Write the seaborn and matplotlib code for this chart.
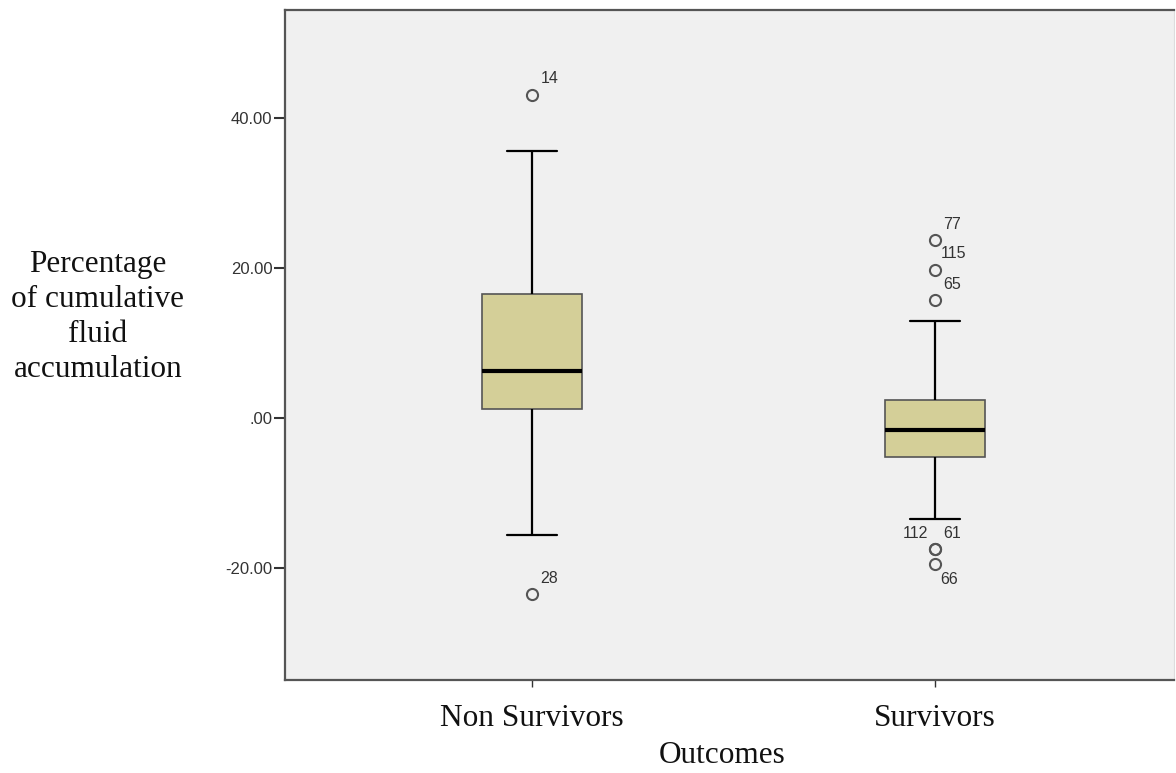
import matplotlib as mpl; mpl.use("Agg")
import matplotlib.pyplot as plt
import pandas as pd
import seaborn as sns

# --- valores (SPSS boxplot) ---
categorias = ["Non Survivors", "Survivors"]
q1 = [1.2, -5.2]
mediana = [6.3, -1.6]
q3 = [16.5, 2.4]
bigote_inf = [-15.6, -13.5]
bigote_sup = [35.6, 12.9]
atipicos_bajos = [[-23.5], [-17.5, -17.5, -19.5]]
atipicos_altos = [[43.1], [23.7, 19.7, 15.7]]
etiquetas_bajos = [["28"], ["112", "61", "66"]]
etiquetas_altos = [["14"], ["77", "115", "65"]]
yticks = [-20, 0, 20, 40]
ytick_labels = ["-20.00", ".00", "20.00", "40.00"]

# desplazamiento de las etiquetas de caso (puntos)
off_bajos = [[(6, 11.5)], [(-5, 11.5), (6, 11.5), (4, -11)]]
off_altos = [[(6, 12)], [(6, 11.5), (4, 12), (6, 11.5)]]
ha_bajos = [["left"], ["right", "left", "left"]]

# tabla larga que reproduce exactamente los cuartiles, bigotes y atipicos
filas = []
for i, cat in enumerate(categorias):
    vals = (atipicos_bajos[i] + [bigote_inf[i]] + [q1[i]] * 20 + [mediana[i]]
            + [q3[i]] * 20 + [bigote_sup[i]] + atipicos_altos[i])
    filas += [(cat, v) for v in vals]
df = pd.DataFrame(filas, columns=["outcome", "valor"])

sns.set_style("white")
plt.rcParams["font.family"] = ["Liberation Sans", "DejaVu Sans"]

fig = plt.figure(figsize=(11.76, 7.73), dpi=100)
ax = fig.add_axes([0.2423, 0.1203, 0.7560, 0.8667])
ax.set_facecolor("#f0f0f0")

sns.boxplot(data=df, x="outcome", y="valor", order=categorias, ax=ax,
            color="#d4cf98", saturation=1, width=0.25, linecolor="#555555",
            linewidth=1.2,
            boxprops=dict(edgecolor="#555555", linewidth=1.2),
            medianprops=dict(color="black", linewidth=3),
            whiskerprops=dict(color="black", linewidth=1.6),
            capprops=dict(color="black", linewidth=1.6),
            flierprops=dict(marker="o", markersize=8, markerfacecolor="none",
                            markeredgecolor="#555555", markeredgewidth=1.5))

# etiquetas de los casos atipicos
for i in range(len(categorias)):
    for v, lab, off in zip(atipicos_altos[i], etiquetas_altos[i], off_altos[i]):
        ax.annotate(lab, (i, v), xytext=off, textcoords="offset points",
                    ha="left", va="center", fontsize=11.5, color="#333333")
    for v, lab, off, ha in zip(atipicos_bajos[i], etiquetas_bajos[i], off_bajos[i], ha_bajos[i]):
        ax.annotate(lab, (i, v), xytext=off, textcoords="offset points",
                    ha=ha, va="center", fontsize=11.5, color="#333333")

ax.set_xlim(-0.613, 1.593)
ax.set_ylim(-34.9, 54.4)
ax.set_yticks(yticks)
ax.set_yticklabels(ytick_labels, fontsize=12, color="#333333")
ax.tick_params(axis="y", direction="out", length=8, width=1.5, color="#333333", pad=1, left=True)
ax.tick_params(axis="x", direction="out", length=5, width=1, color="#333333", pad=12, bottom=True)
for t in ax.get_xticklabels():
    t.set_fontfamily("Liberation Serif")
    t.set_fontsize(22.5)
    t.set_color("#111111")

for s in ["left", "bottom", "top"]:
    ax.spines[s].set_color("#555555")
    ax.spines[s].set_linewidth(1.6)
ax.spines["right"].set_color("#dddddd")

ax.set_xlabel("Outcomes", fontfamily="Liberation Serif", fontsize=22.5, color="#111111")
ax.xaxis.set_label_coords(0.4916, -0.112)
ax.xaxis.label.set_va("center")
ax.set_ylabel("Percentage\nof cumulative\nfluid\naccumulation", rotation=0,
              fontfamily="Liberation Serif", fontsize=22.5, color="#111111",
              ha="center", va="center", linespacing=1.27)
ax.yaxis.set_label_coords(-0.2103, 0.542)

fig.savefig("out.png", dpi=100)
